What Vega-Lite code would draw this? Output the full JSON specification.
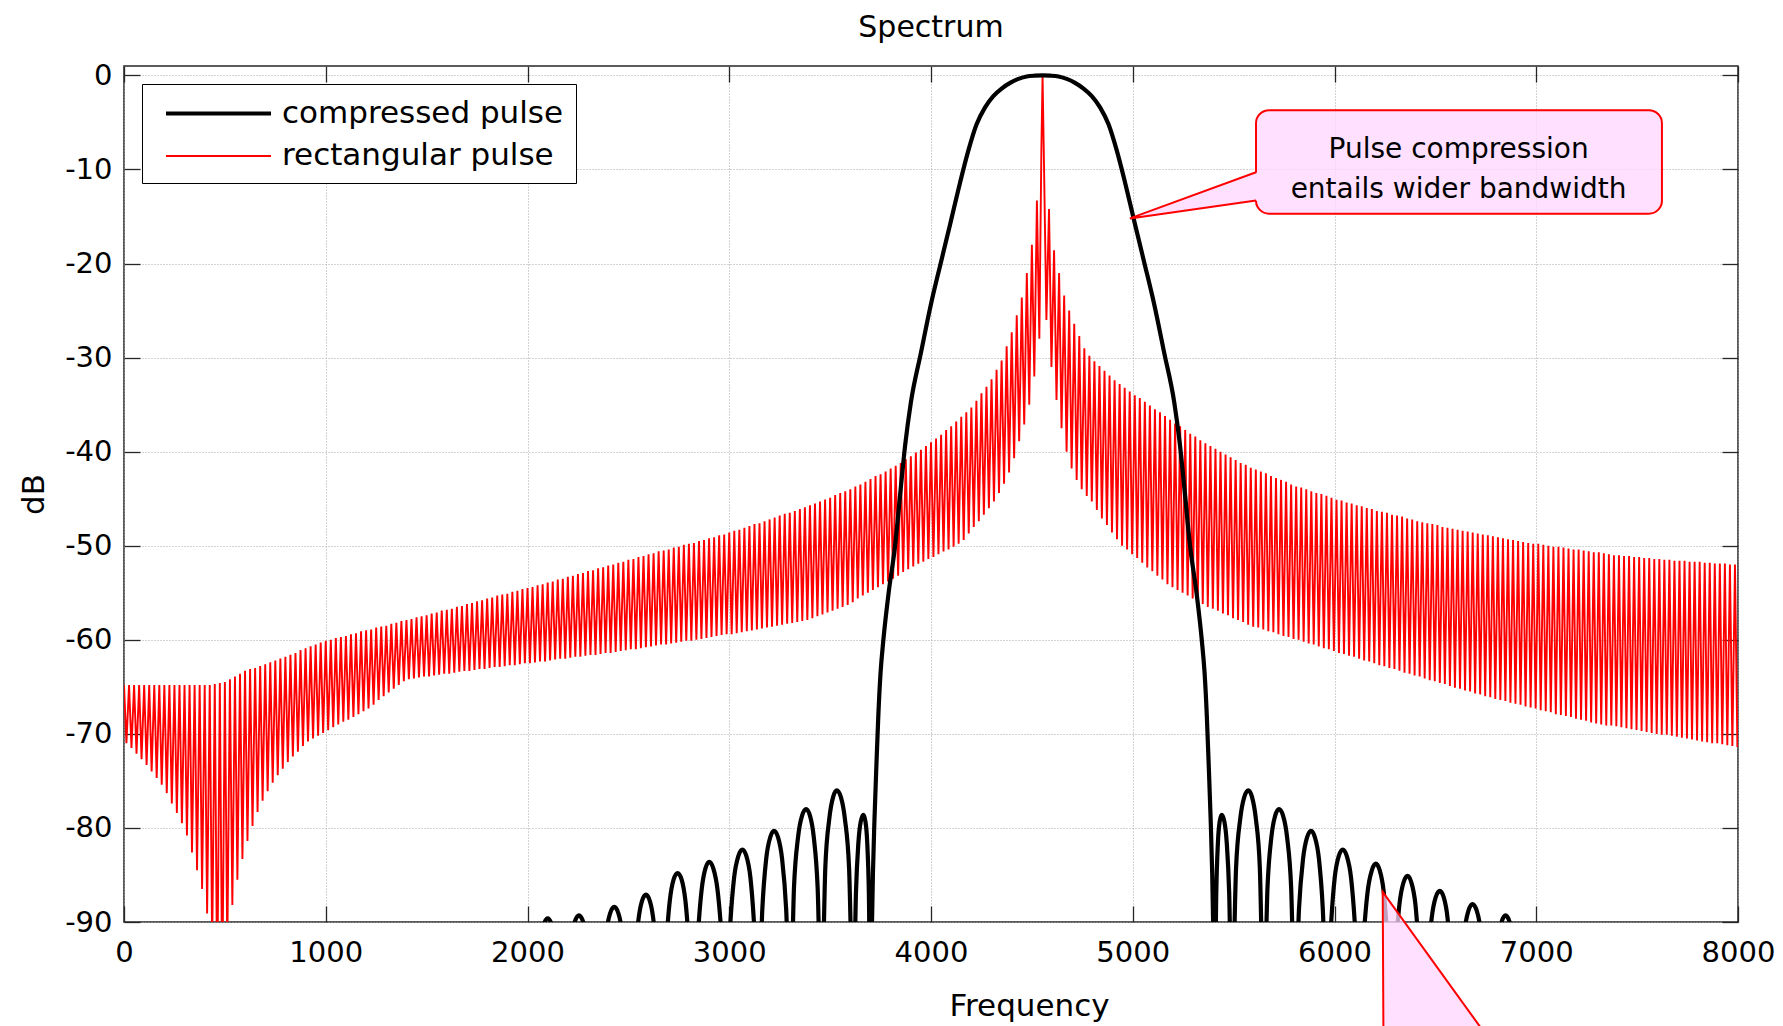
{
  "$schema": "https://vega.github.io/schema/vega-lite/v6.json",
  "autosize": {"type": "none"},
  "width": 1614,
  "height": 856,
  "padding": {"left": 124, "top": 66, "right": 45, "bottom": 104},
  "background": "white",
  "title": {"text": "Spectrum", "anchor": "middle", "frame": "group", "font": "DejaVu Sans", "fontSize": 30, "fontWeight": "normal", "color": "#000000", "baseline": "alphabetic", "offset": -6},
  "config": {
    "locale": {"number": {"decimal": ".", "thousands": ",", "grouping": [3], "currency": ["$", ""], "minus": "-"}},
    "view": {"stroke": "#262626", "strokeWidth": 1.5},
    "axis": {
      "labelFont": "DejaVu Sans", "labelFontSize": 29, "labelColor": "#000000", "format": "d",
      "titleFont": "DejaVu Sans", "titleFontSize": 31, "titleFontWeight": "normal", "titleColor": "#000000",
      "tickColor": "#262626", "tickWidth": 1.3, "tickSize": -16,
      "domain": false, "labelFlush": false, "labelOverlap": false, "labelBound": false,
      "gridColor": "#a6a6a6", "gridDash": [1, 2], "gridWidth": 1, "gridOpacity": 1
    },
    "legend": {
      "padding": 12, "strokeColor": "#000000", "fillColor": "#ffffff",
      "labelFont": "DejaVu Sans", "labelFontSize": 31, "labelColor": "#000000", "labelOffset": 46, "labelLimit": 0,
      "symbolType": "M-3.5,0H3.5", "symbolSize": 900, "symbolOffset": 47, "rowPadding": 11
    }
  },
  "resolve": {"axis": {"x": "independent", "y": "independent"}},
  "datasets": {
    "compressed": [
      {"f":2020,"v":-100},{"f":2061,"v":-92.6},{"f":2080,"v":-90.3},{"f":2100,"v":-89.6},{"f":2120,"v":-90.3},{"f":2139,"v":-92.6},{"f":2178,"v":-100},
      {"f":2214,"v":-92.3},{"f":2234,"v":-90.0},{"f":2255,"v":-89.3},{"f":2276,"v":-90.0},{"f":2296,"v":-92.3},{"f":2343,"v":-100},
      {"f":2368,"v":-96.7},{"f":2389,"v":-91.4},{"f":2409,"v":-89.1},{"f":2430,"v":-88.4},{"f":2451,"v":-89.1},{"f":2471,"v":-91.4},{"f":2492,"v":-96.7},{"f":2509,"v":-100},
      {"f":2528,"v":-95.4},{"f":2548,"v":-90.1},{"f":2567,"v":-87.8},{"f":2587,"v":-87.1},{"f":2607,"v":-87.8},{"f":2626,"v":-90.1},{"f":2646,"v":-95.4},{"f":2666,"v":-100},
      {"f":2685,"v":-93.1},{"f":2705,"v":-87.8},{"f":2724,"v":-85.5},{"f":2744,"v":-84.8},{"f":2764,"v":-85.5},{"f":2783,"v":-87.8},{"f":2803,"v":-93.1},{"f":2823,"v":-100},
      {"f":2843,"v":-91.9},{"f":2863,"v":-86.6},{"f":2882,"v":-84.3},{"f":2901,"v":-83.6},{"f":2921,"v":-84.3},{"f":2942,"v":-86.6},{"f":2963,"v":-91.9},{"f":2983,"v":-100},
      {"f":3004,"v":-90.6},{"f":3024,"v":-85.3},{"f":3045,"v":-83.0},{"f":3065,"v":-82.3},{"f":3085,"v":-83.0},{"f":3105,"v":-85.3},{"f":3124,"v":-90.6},{"f":3144,"v":-100},
      {"f":3164,"v":-88.6},{"f":3183,"v":-83.3},{"f":3203,"v":-81.0},{"f":3222,"v":-80.3},{"f":3242,"v":-81.0},{"f":3262,"v":-83.3},{"f":3282,"v":-88.6},{"f":3302,"v":-100},
      {"f":3321,"v":-86.3},{"f":3341,"v":-81.0},{"f":3361,"v":-78.7},{"f":3381,"v":-78.0},{"f":3400,"v":-78.7},{"f":3419,"v":-81.0},{"f":3438,"v":-86.3},{"f":3457,"v":-100},
      {"f":3476,"v":-84.3},{"f":3496,"v":-79.0},{"f":3515,"v":-76.7},{"f":3533,"v":-76.0},{"f":3553,"v":-76.7},{"f":3573,"v":-79.0},{"f":3594,"v":-84.3},{"f":3615,"v":-100},
      {"f":3628,"v":-86.9},{"f":3640,"v":-81.6},{"f":3652,"v":-79.3},{"f":3665,"v":-78.6},{"f":3675,"v":-79.3},{"f":3684,"v":-81.6},{"f":3692,"v":-86.9},{"f":3700,"v":-100},
      {"f":3706,"v":-92},{"f":3712,"v":-85},{"f":3720,"v":-79},{"f":3730,"v":-73},{"f":3739,"v":-68},{"f":3750,"v":-63.5},{"f":3764,"v":-60},{"f":3790,"v":-55},
      {"f":3822,"v":-50},{"f":3846,"v":-44.8},{"f":3872,"v":-39.3},{"f":3900,"v":-34.8},{"f":3950,"v":-29.5},{"f":4000,"v":-24.3},{"f":4050,"v":-19.8},{"f":4094,"v":-15.9},
      {"f":4144,"v":-11.4},{"f":4185,"v":-8.0},{"f":4226,"v":-5.2},{"f":4268,"v":-3.4},{"f":4309,"v":-2.2},{"f":4350,"v":-1.4},{"f":4392,"v":-0.8},{"f":4430,"v":-0.4},
      {"f":4474,"v":-0.12},{"f":4515,"v":-0.03},{"f":4553,"v":0},{"f":4591,"v":-0.03},{"f":4632,"v":-0.12},{"f":4676,"v":-0.4},{"f":4714,"v":-0.8},{"f":4756,"v":-1.4},
      {"f":4797,"v":-2.2},{"f":4838,"v":-3.4},{"f":4880,"v":-5.2},{"f":4921,"v":-8.0},{"f":4962,"v":-11.4},{"f":5012,"v":-15.9},{"f":5056,"v":-19.8},{"f":5106,"v":-24.3},
      {"f":5156,"v":-29.5},{"f":5206,"v":-34.8},{"f":5234,"v":-39.3},{"f":5260,"v":-44.8},{"f":5284,"v":-50},{"f":5316,"v":-55},{"f":5342,"v":-60},{"f":5356,"v":-63.5},
      {"f":5367,"v":-68},{"f":5376,"v":-73},{"f":5386,"v":-79},{"f":5394,"v":-85},{"f":5400,"v":-92},{"f":5406,"v":-100},
      {"f":5414,"v":-86.9},{"f":5422,"v":-81.6},{"f":5431,"v":-79.3},{"f":5441,"v":-78.6},{"f":5454,"v":-79.3},{"f":5466,"v":-81.6},{"f":5478,"v":-86.9},{"f":5491,"v":-100},
      {"f":5512,"v":-84.3},{"f":5533,"v":-79.0},{"f":5553,"v":-76.7},{"f":5573,"v":-76.0},{"f":5591,"v":-76.7},{"f":5610,"v":-79.0},{"f":5630,"v":-84.3},{"f":5649,"v":-100},
      {"f":5668,"v":-86.3},{"f":5687,"v":-81.0},{"f":5706,"v":-78.7},{"f":5725,"v":-78.0},{"f":5745,"v":-78.7},{"f":5765,"v":-81.0},{"f":5785,"v":-86.3},{"f":5804,"v":-100},
      {"f":5824,"v":-88.6},{"f":5844,"v":-83.3},{"f":5864,"v":-81.0},{"f":5884,"v":-80.3},{"f":5903,"v":-81.0},{"f":5923,"v":-83.3},{"f":5942,"v":-88.6},{"f":5962,"v":-100},
      {"f":5982,"v":-90.6},{"f":6001,"v":-85.3},{"f":6021,"v":-83.0},{"f":6041,"v":-82.3},{"f":6061,"v":-83.0},{"f":6082,"v":-85.3},{"f":6102,"v":-90.6},{"f":6123,"v":-100},
      {"f":6143,"v":-92.1},{"f":6164,"v":-86.8},{"f":6185,"v":-84.5},{"f":6205,"v":-83.8},{"f":6224,"v":-84.5},{"f":6244,"v":-86.8},{"f":6263,"v":-92.1},{"f":6283,"v":-100},
      {"f":6302,"v":-93.4},{"f":6322,"v":-88.1},{"f":6342,"v":-85.8},{"f":6362,"v":-85.1},{"f":6381,"v":-85.8},{"f":6401,"v":-88.1},{"f":6420,"v":-93.4},{"f":6440,"v":-100},
      {"f":6460,"v":-95.0},{"f":6481,"v":-89.7},{"f":6501,"v":-87.4},{"f":6522,"v":-86.7},{"f":6542,"v":-87.4},{"f":6561,"v":-89.7},{"f":6579,"v":-95.0},{"f":6597,"v":-100},
      {"f":6621,"v":-96.4},{"f":6643,"v":-91.1},{"f":6664,"v":-88.8},{"f":6684,"v":-88.1},{"f":6705,"v":-88.8},{"f":6726,"v":-91.1},{"f":6747,"v":-96.4},{"f":6763,"v":-100},
      {"f":6807,"v":-92.3},{"f":6828,"v":-90.0},{"f":6848,"v":-89.3},{"f":6868,"v":-90.0},{"f":6888,"v":-92.3},{"f":6928,"v":-100}
    ],
    "rectangular": [
      {"f":0,"v":-64.8},{"f":12,"v":-71.0},{"f":25,"v":-64.8},{"f":37,"v":-71.5},{"f":50,"v":-64.8},{"f":62,"v":-72.1},{"f":75,"v":-64.8},{"f":87,"v":-72.7},
      {"f":100,"v":-64.8},{"f":112,"v":-73.3},{"f":125,"v":-64.8},{"f":137,"v":-74.0},{"f":150,"v":-64.8},{"f":162,"v":-74.7},{"f":175,"v":-64.8},{"f":187,"v":-75.4},
      {"f":200,"v":-64.8},{"f":212,"v":-76.3},{"f":225,"v":-64.8},{"f":237,"v":-77.4},{"f":250,"v":-64.8},{"f":262,"v":-78.4},{"f":275,"v":-64.8},{"f":287,"v":-79.5},
      {"f":300,"v":-64.8},{"f":312,"v":-80.8},{"f":325,"v":-64.8},{"f":337,"v":-82.6},{"f":350,"v":-64.8},{"f":362,"v":-84.5},{"f":375,"v":-64.8},{"f":387,"v":-86.5},
      {"f":400,"v":-64.8},{"f":412,"v":-89.1},{"f":425,"v":-64.8},{"f":437,"v":-92.7},{"f":450,"v":-64.7},{"f":462,"v":-97.5},{"f":475,"v":-64.6},{"f":487,"v":-98},
      {"f":500,"v":-64.5},{"f":512,"v":-93},{"f":525,"v":-64.2},{"f":537,"v":-88.2},{"f":550,"v":-63.9},{"f":562,"v":-85.5},{"f":575,"v":-63.6},{"f":587,"v":-83.3},
      {"f":600,"v":-63.3},{"f":612,"v":-81.4},{"f":625,"v":-63.1},{"f":637,"v":-79.8},{"f":650,"v":-63.0},{"f":662,"v":-78.3},{"f":675,"v":-62.8},{"f":687,"v":-77.1},
      {"f":700,"v":-62.6},{"f":712,"v":-76.1},{"f":725,"v":-62.4},{"f":737,"v":-75.2},{"f":750,"v":-62.2},{"f":762,"v":-74.4},{"f":775,"v":-62.0},{"f":787,"v":-73.7},
      {"f":800,"v":-61.8},{"f":812,"v":-73.0},{"f":825,"v":-61.6},{"f":837,"v":-72.4},{"f":850,"v":-61.4},{"f":862,"v":-71.9},{"f":875,"v":-61.1},{"f":887,"v":-71.3},
      {"f":900,"v":-60.9},{"f":912,"v":-70.8},{"f":925,"v":-60.7},{"f":937,"v":-70.5},{"f":950,"v":-60.5},{"f":962,"v":-70.2},{"f":975,"v":-60.3},{"f":987,"v":-69.9},
      {"f":1000,"v":-60.1},{"f":1012,"v":-69.6},{"f":1025,"v":-60.0},{"f":1037,"v":-69.3},{"f":1050,"v":-59.8},{"f":1062,"v":-69.0},{"f":1075,"v":-59.7},{"f":1087,"v":-68.7},
      {"f":1100,"v":-59.6},{"f":1112,"v":-68.5},{"f":1125,"v":-59.4},{"f":1137,"v":-68.2},{"f":1150,"v":-59.3},{"f":1162,"v":-67.9},{"f":1175,"v":-59.1},{"f":1187,"v":-67.6},
      {"f":1200,"v":-59.0},{"f":1212,"v":-67.3},{"f":1225,"v":-58.9},{"f":1237,"v":-66.9},{"f":1250,"v":-58.7},{"f":1262,"v":-66.4},{"f":1275,"v":-58.6},{"f":1287,"v":-66.0},
      {"f":1300,"v":-58.5},{"f":1312,"v":-65.6},{"f":1325,"v":-58.3},{"f":1337,"v":-65.2},{"f":1350,"v":-58.2},{"f":1362,"v":-64.8},{"f":1375,"v":-58.0},{"f":1387,"v":-64.4},
      {"f":1400,"v":-57.9},{"f":1412,"v":-64.2},{"f":1425,"v":-57.8},{"f":1437,"v":-64.1},{"f":1450,"v":-57.6},{"f":1462,"v":-64.0},{"f":1475,"v":-57.5},{"f":1487,"v":-63.9},
      {"f":1500,"v":-57.4},{"f":1512,"v":-63.9},{"f":1525,"v":-57.2},{"f":1537,"v":-63.8},{"f":1550,"v":-57.1},{"f":1562,"v":-63.7},{"f":1575,"v":-56.9},{"f":1587,"v":-63.6},
      {"f":1600,"v":-56.8},{"f":1612,"v":-63.6},{"f":1625,"v":-56.7},{"f":1637,"v":-63.5},{"f":1650,"v":-56.5},{"f":1662,"v":-63.4},{"f":1675,"v":-56.4},{"f":1687,"v":-63.3},
      {"f":1700,"v":-56.2},{"f":1712,"v":-63.3},{"f":1725,"v":-56.1},{"f":1737,"v":-63.2},{"f":1750,"v":-55.9},{"f":1762,"v":-63.1},{"f":1775,"v":-55.8},{"f":1787,"v":-63.1},
      {"f":1800,"v":-55.6},{"f":1812,"v":-63.0},{"f":1825,"v":-55.5},{"f":1837,"v":-62.9},{"f":1850,"v":-55.3},{"f":1862,"v":-62.9},{"f":1875,"v":-55.2},{"f":1887,"v":-62.8},
      {"f":1900,"v":-55.1},{"f":1912,"v":-62.7},{"f":1925,"v":-54.9},{"f":1937,"v":-62.7},{"f":1950,"v":-54.8},{"f":1962,"v":-62.6},{"f":1975,"v":-54.6},{"f":1987,"v":-62.5},
      {"f":2000,"v":-54.5},{"f":2012,"v":-62.5},{"f":2025,"v":-54.4},{"f":2037,"v":-62.4},{"f":2050,"v":-54.2},{"f":2062,"v":-62.3},{"f":2075,"v":-54.1},{"f":2087,"v":-62.3},
      {"f":2100,"v":-53.9},{"f":2112,"v":-62.2},{"f":2125,"v":-53.8},{"f":2137,"v":-62.1},{"f":2150,"v":-53.6},{"f":2162,"v":-62.0},{"f":2175,"v":-53.5},{"f":2187,"v":-62.0},
      {"f":2200,"v":-53.3},{"f":2212,"v":-61.9},{"f":2225,"v":-53.2},{"f":2237,"v":-61.8},{"f":2250,"v":-53.0},{"f":2262,"v":-61.8},{"f":2275,"v":-52.9},{"f":2287,"v":-61.7},
      {"f":2300,"v":-52.7},{"f":2312,"v":-61.6},{"f":2325,"v":-52.6},{"f":2337,"v":-61.6},{"f":2350,"v":-52.4},{"f":2362,"v":-61.5},{"f":2375,"v":-52.3},{"f":2387,"v":-61.4},
      {"f":2400,"v":-52.1},{"f":2412,"v":-61.4},{"f":2425,"v":-52.0},{"f":2437,"v":-61.3},{"f":2450,"v":-51.8},{"f":2462,"v":-61.2},{"f":2475,"v":-51.7},{"f":2487,"v":-61.1},
      {"f":2500,"v":-51.5},{"f":2512,"v":-61.0},{"f":2525,"v":-51.4},{"f":2537,"v":-61.0},{"f":2550,"v":-51.2},{"f":2562,"v":-60.9},{"f":2575,"v":-51.1},{"f":2587,"v":-60.8},
      {"f":2600,"v":-50.9},{"f":2612,"v":-60.7},{"f":2625,"v":-50.8},{"f":2637,"v":-60.6},{"f":2650,"v":-50.6},{"f":2662,"v":-60.5},{"f":2675,"v":-50.5},{"f":2687,"v":-60.5},
      {"f":2700,"v":-50.4},{"f":2712,"v":-60.4},{"f":2725,"v":-50.2},{"f":2737,"v":-60.3},{"f":2750,"v":-50.1},{"f":2762,"v":-60.2},{"f":2775,"v":-49.9},{"f":2787,"v":-60.1},
      {"f":2800,"v":-49.8},{"f":2812,"v":-60.1},{"f":2825,"v":-49.7},{"f":2837,"v":-60.0},{"f":2850,"v":-49.5},{"f":2862,"v":-59.9},{"f":2875,"v":-49.4},{"f":2887,"v":-59.8},
      {"f":2900,"v":-49.2},{"f":2912,"v":-59.7},{"f":2925,"v":-49.1},{"f":2937,"v":-59.6},{"f":2950,"v":-48.9},{"f":2962,"v":-59.5},{"f":2975,"v":-48.8},{"f":2987,"v":-59.4},
      {"f":3000,"v":-48.6},{"f":3012,"v":-59.4},{"f":3025,"v":-48.4},{"f":3037,"v":-59.3},{"f":3050,"v":-48.3},{"f":3062,"v":-59.2},{"f":3075,"v":-48.1},{"f":3087,"v":-59.1},
      {"f":3100,"v":-47.9},{"f":3112,"v":-59.0},{"f":3125,"v":-47.7},{"f":3137,"v":-58.9},{"f":3150,"v":-47.6},{"f":3162,"v":-58.8},{"f":3175,"v":-47.4},{"f":3187,"v":-58.7},
      {"f":3200,"v":-47.2},{"f":3212,"v":-58.6},{"f":3225,"v":-47.0},{"f":3237,"v":-58.5},{"f":3250,"v":-46.8},{"f":3262,"v":-58.4},{"f":3275,"v":-46.6},{"f":3287,"v":-58.3},
      {"f":3300,"v":-46.5},{"f":3312,"v":-58.2},{"f":3325,"v":-46.3},{"f":3337,"v":-58.1},{"f":3350,"v":-46.1},{"f":3362,"v":-58.0},{"f":3375,"v":-45.9},{"f":3387,"v":-57.9},
      {"f":3400,"v":-45.7},{"f":3412,"v":-57.7},{"f":3425,"v":-45.5},{"f":3437,"v":-57.5},{"f":3450,"v":-45.3},{"f":3462,"v":-57.3},{"f":3475,"v":-45.1},{"f":3487,"v":-57.1},
      {"f":3500,"v":-44.9},{"f":3512,"v":-56.9},{"f":3525,"v":-44.6},{"f":3537,"v":-56.7},{"f":3550,"v":-44.4},{"f":3562,"v":-56.5},{"f":3575,"v":-44.2},{"f":3587,"v":-56.3},
      {"f":3600,"v":-44.0},{"f":3612,"v":-56.0},{"f":3625,"v":-43.7},{"f":3637,"v":-55.6},{"f":3650,"v":-43.5},{"f":3662,"v":-55.3},{"f":3675,"v":-43.2},{"f":3687,"v":-55.0},
      {"f":3700,"v":-42.9},{"f":3712,"v":-54.7},{"f":3725,"v":-42.6},{"f":3737,"v":-54.4},{"f":3750,"v":-42.4},{"f":3762,"v":-54.1},{"f":3775,"v":-42.1},{"f":3787,"v":-53.8},
      {"f":3800,"v":-41.8},{"f":3812,"v":-53.5},{"f":3825,"v":-41.5},{"f":3837,"v":-53.2},{"f":3850,"v":-41.2},{"f":3862,"v":-52.8},{"f":3875,"v":-40.8},{"f":3887,"v":-52.5},
      {"f":3900,"v":-40.5},{"f":3912,"v":-52.2},{"f":3925,"v":-40.1},{"f":3937,"v":-51.9},{"f":3950,"v":-39.8},{"f":3962,"v":-51.7},{"f":3975,"v":-39.4},{"f":3987,"v":-51.4},
      {"f":4000,"v":-39.0},{"f":4012,"v":-51.2},{"f":4025,"v":-38.6},{"f":4037,"v":-50.9},{"f":4050,"v":-38.2},{"f":4062,"v":-50.6},{"f":4075,"v":-37.7},{"f":4087,"v":-50.4},
      {"f":4100,"v":-37.3},{"f":4112,"v":-50.1},{"f":4125,"v":-36.8},{"f":4137,"v":-49.8},{"f":4150,"v":-36.3},{"f":4162,"v":-49.4},{"f":4175,"v":-35.8},{"f":4187,"v":-48.7},
      {"f":4200,"v":-35.3},{"f":4212,"v":-48.0},{"f":4225,"v":-34.6},{"f":4237,"v":-47.4},{"f":4250,"v":-33.8},{"f":4262,"v":-46.7},{"f":4275,"v":-33.1},{"f":4287,"v":-46.0},
      {"f":4300,"v":-32.3},{"f":4312,"v":-45.3},{"f":4325,"v":-31.3},{"f":4337,"v":-44.4},{"f":4350,"v":-30.3},{"f":4362,"v":-43.4},{"f":4375,"v":-28.8},{"f":4387,"v":-42.2},
      {"f":4400,"v":-27.3},{"f":4412,"v":-40.7},{"f":4425,"v":-25.5},{"f":4437,"v":-38.9},{"f":4450,"v":-23.6},{"f":4462,"v":-37.1},{"f":4475,"v":-21.0},{"f":4487,"v":-35.0},
      {"f":4500,"v":-18.0},{"f":4512,"v":-32.0},{"f":4525,"v":-13.3},{"f":4537,"v":-28.0},{"f":4547,"v":-8},{"f":4553,"v":0},{"f":4559,"v":-8},{"f":4572,"v":-26},
      {"f":4585,"v":-14.2},{"f":4597,"v":-31.0},{"f":4610,"v":-18.6},{"f":4622,"v":-34.5},{"f":4635,"v":-21.0},{"f":4647,"v":-37.5},{"f":4660,"v":-23.4},{"f":4672,"v":-40.0},
      {"f":4685,"v":-25.0},{"f":4697,"v":-41.8},{"f":4710,"v":-26.4},{"f":4722,"v":-43.0},{"f":4735,"v":-27.7},{"f":4747,"v":-44.0},{"f":4760,"v":-29.0},{"f":4772,"v":-44.7},
      {"f":4785,"v":-29.8},{"f":4797,"v":-45.3},{"f":4810,"v":-30.4},{"f":4822,"v":-46.2},{"f":4835,"v":-30.9},{"f":4847,"v":-47.1},{"f":4860,"v":-31.4},{"f":4872,"v":-47.8},
      {"f":4885,"v":-31.9},{"f":4897,"v":-48.6},{"f":4910,"v":-32.4},{"f":4922,"v":-49.3},{"f":4935,"v":-32.8},{"f":4947,"v":-50.0},{"f":4960,"v":-33.2},{"f":4972,"v":-50.4},
      {"f":4985,"v":-33.6},{"f":4997,"v":-50.9},{"f":5010,"v":-34.0},{"f":5022,"v":-51.3},{"f":5035,"v":-34.3},{"f":5047,"v":-51.8},{"f":5060,"v":-34.7},{"f":5072,"v":-52.3},
      {"f":5085,"v":-35.1},{"f":5097,"v":-52.7},{"f":5110,"v":-35.5},{"f":5122,"v":-53.2},{"f":5135,"v":-35.8},{"f":5147,"v":-53.6},{"f":5160,"v":-36.2},{"f":5172,"v":-54.1},
      {"f":5185,"v":-36.6},{"f":5197,"v":-54.4},{"f":5210,"v":-37.0},{"f":5222,"v":-54.7},{"f":5235,"v":-37.3},{"f":5247,"v":-55.0},{"f":5260,"v":-37.7},{"f":5272,"v":-55.3},
      {"f":5285,"v":-38.1},{"f":5297,"v":-55.6},{"f":5310,"v":-38.4},{"f":5322,"v":-56.0},{"f":5335,"v":-38.8},{"f":5347,"v":-56.2},{"f":5360,"v":-39.1},{"f":5372,"v":-56.5},
      {"f":5385,"v":-39.4},{"f":5397,"v":-56.7},{"f":5410,"v":-39.7},{"f":5422,"v":-56.9},{"f":5435,"v":-40.0},{"f":5447,"v":-57.2},{"f":5460,"v":-40.3},{"f":5472,"v":-57.4},
      {"f":5485,"v":-40.6},{"f":5497,"v":-57.7},{"f":5510,"v":-40.9},{"f":5522,"v":-57.9},{"f":5535,"v":-41.2},{"f":5547,"v":-58.1},{"f":5560,"v":-41.4},{"f":5572,"v":-58.4},
      {"f":5585,"v":-41.7},{"f":5597,"v":-58.6},{"f":5610,"v":-41.9},{"f":5622,"v":-58.7},{"f":5635,"v":-42.1},{"f":5647,"v":-58.9},{"f":5660,"v":-42.3},{"f":5672,"v":-59.1},
      {"f":5685,"v":-42.6},{"f":5697,"v":-59.2},{"f":5710,"v":-42.8},{"f":5722,"v":-59.4},{"f":5735,"v":-43.0},{"f":5747,"v":-59.6},{"f":5760,"v":-43.2},{"f":5772,"v":-59.7},
      {"f":5785,"v":-43.5},{"f":5797,"v":-59.9},{"f":5810,"v":-43.7},{"f":5822,"v":-60.0},{"f":5835,"v":-43.8},{"f":5847,"v":-60.2},{"f":5860,"v":-44.0},{"f":5872,"v":-60.4},
      {"f":5885,"v":-44.2},{"f":5897,"v":-60.5},{"f":5910,"v":-44.4},{"f":5922,"v":-60.7},{"f":5935,"v":-44.5},{"f":5947,"v":-60.9},{"f":5960,"v":-44.7},{"f":5972,"v":-61.0},
      {"f":5985,"v":-44.9},{"f":5997,"v":-61.2},{"f":6010,"v":-45.1},{"f":6022,"v":-61.4},{"f":6035,"v":-45.2},{"f":6047,"v":-61.5},{"f":6060,"v":-45.4},{"f":6072,"v":-61.7},
      {"f":6085,"v":-45.5},{"f":6097,"v":-61.8},{"f":6110,"v":-45.7},{"f":6122,"v":-62.0},{"f":6135,"v":-45.8},{"f":6147,"v":-62.2},{"f":6160,"v":-46.0},{"f":6172,"v":-62.3},
      {"f":6185,"v":-46.1},{"f":6197,"v":-62.5},{"f":6210,"v":-46.3},{"f":6222,"v":-62.7},{"f":6235,"v":-46.4},{"f":6247,"v":-62.8},{"f":6260,"v":-46.5},{"f":6272,"v":-63.0},
      {"f":6285,"v":-46.7},{"f":6297,"v":-63.1},{"f":6310,"v":-46.8},{"f":6322,"v":-63.3},{"f":6335,"v":-46.9},{"f":6347,"v":-63.5},{"f":6360,"v":-47.1},{"f":6372,"v":-63.6},
      {"f":6385,"v":-47.2},{"f":6397,"v":-63.8},{"f":6410,"v":-47.4},{"f":6422,"v":-63.9},{"f":6435,"v":-47.5},{"f":6447,"v":-64.1},{"f":6460,"v":-47.6},{"f":6472,"v":-64.3},
      {"f":6485,"v":-47.7},{"f":6497,"v":-64.4},{"f":6510,"v":-47.8},{"f":6522,"v":-64.6},{"f":6535,"v":-48.0},{"f":6547,"v":-64.7},{"f":6560,"v":-48.1},{"f":6572,"v":-64.9},
      {"f":6585,"v":-48.2},{"f":6597,"v":-65.1},{"f":6610,"v":-48.3},{"f":6622,"v":-65.2},{"f":6635,"v":-48.4},{"f":6647,"v":-65.4},{"f":6660,"v":-48.5},{"f":6672,"v":-65.5},
      {"f":6685,"v":-48.6},{"f":6697,"v":-65.7},{"f":6710,"v":-48.7},{"f":6722,"v":-65.8},{"f":6735,"v":-48.8},{"f":6747,"v":-66.0},{"f":6760,"v":-48.9},{"f":6772,"v":-66.1},
      {"f":6785,"v":-49.0},{"f":6797,"v":-66.3},{"f":6810,"v":-49.1},{"f":6822,"v":-66.4},{"f":6835,"v":-49.2},{"f":6847,"v":-66.5},{"f":6860,"v":-49.3},{"f":6872,"v":-66.7},
      {"f":6885,"v":-49.4},{"f":6897,"v":-66.8},{"f":6910,"v":-49.5},{"f":6922,"v":-66.9},{"f":6935,"v":-49.6},{"f":6947,"v":-67.1},{"f":6960,"v":-49.7},{"f":6972,"v":-67.2},
      {"f":6985,"v":-49.8},{"f":6997,"v":-67.3},{"f":7010,"v":-49.8},{"f":7022,"v":-67.5},{"f":7035,"v":-49.9},{"f":7047,"v":-67.6},{"f":7060,"v":-50.0},{"f":7072,"v":-67.7},
      {"f":7085,"v":-50.1},{"f":7097,"v":-67.9},{"f":7110,"v":-50.1},{"f":7122,"v":-68.0},{"f":7135,"v":-50.2},{"f":7147,"v":-68.1},{"f":7160,"v":-50.3},{"f":7172,"v":-68.2},
      {"f":7185,"v":-50.4},{"f":7197,"v":-68.4},{"f":7210,"v":-50.4},{"f":7222,"v":-68.5},{"f":7235,"v":-50.5},{"f":7247,"v":-68.6},{"f":7260,"v":-50.6},{"f":7272,"v":-68.8},
      {"f":7285,"v":-50.7},{"f":7297,"v":-68.9},{"f":7310,"v":-50.7},{"f":7322,"v":-69.0},{"f":7335,"v":-50.8},{"f":7347,"v":-69.1},{"f":7360,"v":-50.9},{"f":7372,"v":-69.1},
      {"f":7385,"v":-51.0},{"f":7397,"v":-69.2},{"f":7410,"v":-51.0},{"f":7422,"v":-69.3},{"f":7435,"v":-51.1},{"f":7447,"v":-69.4},{"f":7460,"v":-51.1},{"f":7472,"v":-69.5},
      {"f":7485,"v":-51.2},{"f":7497,"v":-69.6},{"f":7510,"v":-51.2},{"f":7522,"v":-69.7},{"f":7535,"v":-51.3},{"f":7547,"v":-69.8},{"f":7560,"v":-51.3},{"f":7572,"v":-69.9},
      {"f":7585,"v":-51.4},{"f":7597,"v":-70.0},{"f":7610,"v":-51.4},{"f":7622,"v":-70.1},{"f":7635,"v":-51.5},{"f":7647,"v":-70.1},{"f":7660,"v":-51.5},{"f":7672,"v":-70.2},
      {"f":7685,"v":-51.6},{"f":7697,"v":-70.3},{"f":7710,"v":-51.6},{"f":7722,"v":-70.4},{"f":7735,"v":-51.6},{"f":7747,"v":-70.5},{"f":7760,"v":-51.7},{"f":7772,"v":-70.6},
      {"f":7785,"v":-51.7},{"f":7797,"v":-70.7},{"f":7810,"v":-51.7},{"f":7822,"v":-70.8},{"f":7835,"v":-51.8},{"f":7847,"v":-70.9},{"f":7860,"v":-51.8},{"f":7872,"v":-71.0},
      {"f":7885,"v":-51.9},{"f":7897,"v":-71.0},{"f":7910,"v":-51.9},{"f":7922,"v":-71.1},{"f":7935,"v":-51.9},{"f":7947,"v":-71.2},{"f":7960,"v":-52.0},{"f":7972,"v":-71.3},
      {"f":7985,"v":-52.0},{"f":7997,"v":-71.4}
    ]
  },
  "layer": [
    {
      "data": {"name": "rectangular"},
      "mark": {"type": "line", "clip": true},
      "encoding": {
        "x": {"field": "f", "type": "quantitative", "scale": {"domain": [0, 8000], "nice": false, "zero": false},
              "axis": {"orient": "top", "values": [0, 1000, 2000, 3000, 4000, 5000, 6000, 7000, 8000], "labels": false, "grid": false, "title": null}},
        "y": {"field": "v", "type": "quantitative", "scale": {"domain": [-90, 1], "nice": false, "zero": false},
              "axis": {"orient": "right", "values": [-90, -80, -70, -60, -50, -40, -30, -20, -10, 0], "labels": false, "grid": false, "title": null}},
        "color": {"datum": "rectangular pulse", "type": "nominal",
                  "scale": {"domain": ["compressed pulse", "rectangular pulse"], "range": ["#000000", "#ff0000"]},
                  "legend": {"title": null, "orient": "none", "legendX": 18, "legendY": 18}},
        "strokeWidth": {"datum": "rectangular pulse", "type": "nominal",
                        "scale": {"type": "ordinal", "domain": ["compressed pulse", "rectangular pulse"], "range": [4.2, 1.9]},
                        "legend": {"title": null, "orient": "none", "legendX": 18, "legendY": 18}}
      }
    },
    {
      "data": {"name": "compressed"},
      "mark": {"type": "line", "clip": true, "interpolate": "monotone"},
      "encoding": {
        "x": {"field": "f", "type": "quantitative", "scale": {"domain": [0, 8000], "nice": false, "zero": false},
              "axis": {"orient": "bottom", "values": [0, 1000, 2000, 3000, 4000, 5000, 6000, 7000, 8000], "grid": true, "labelPadding": 32,
                       "title": "Frequency", "titleX": 905, "titleY": 93, "titleBaseline": "alphabetic", "titleAlign": "center"}},
        "y": {"field": "v", "type": "quantitative", "scale": {"domain": [-90, 1], "nice": false, "zero": false},
              "axis": {"orient": "left", "values": [-90, -80, -70, -60, -50, -40, -30, -20, -10, 0], "grid": true, "labelPadding": 28,
                       "title": "dB", "titleX": -81, "titleY": 428, "titleAngle": 270, "titleBaseline": "alphabetic", "titleAlign": "center"}},
        "color": {"datum": "compressed pulse", "type": "nominal",
                  "scale": {"domain": ["compressed pulse", "rectangular pulse"], "range": ["#000000", "#ff0000"]},
                  "legend": {"title": null, "orient": "none", "legendX": 18, "legendY": 18}},
        "strokeWidth": {"datum": "compressed pulse", "type": "nominal",
                        "scale": {"type": "ordinal", "domain": ["compressed pulse", "rectangular pulse"], "range": [4.2, 1.9]},
                        "legend": {"title": null, "orient": "none", "legendX": 18, "legendY": 18}}
      }
    },
    {
      "data": {"values": [{"f": 6239, "top": -86.8, "bottom": -86.8}, {"f": 6243, "top": -86.9, "bottom": -104}, {"f": 6818, "top": -104, "bottom": -104}]},
      "mark": {"type": "area", "color": "#ffd6ff", "opacity": 0.75, "clip": false},
      "encoding": {
        "x": {"field": "f", "type": "quantitative", "scale": {"domain": [0, 8000], "nice": false, "zero": false}, "axis": null},
        "y": {"field": "top", "type": "quantitative", "scale": {"domain": [-90, 1], "nice": false, "zero": false}, "axis": null},
        "y2": {"field": "bottom"}
      }
    },
    {
      "data": {"values": [{"i": 0, "f": 6243, "v": -104}, {"i": 1, "f": 6239, "v": -86.8}, {"i": 2, "f": 6818, "v": -104}]},
      "mark": {"type": "line", "color": "#ff0000", "strokeWidth": 2, "clip": false},
      "encoding": {
        "x": {"field": "f", "type": "quantitative", "scale": {"domain": [0, 8000], "nice": false, "zero": false}, "axis": null},
        "y": {"field": "v", "type": "quantitative", "scale": {"domain": [-90, 1], "nice": false, "zero": false}, "axis": null},
        "order": {"field": "i", "type": "quantitative"}
      }
    },
    {
      "data": {"values": [{"x1": 5611, "x2": 7623, "y1": -3.7, "y2": -14.7}]},
      "mark": {"type": "rect", "fill": "#ffd9ff", "fillOpacity": 0.8, "stroke": "#ff0000", "strokeWidth": 2, "cornerRadius": 13, "clip": false},
      "encoding": {
        "x": {"field": "x1", "type": "quantitative", "scale": {"domain": [0, 8000], "nice": false, "zero": false}, "axis": null},
        "x2": {"field": "x2"},
        "y": {"field": "y1", "type": "quantitative", "scale": {"domain": [-90, 1], "nice": false, "zero": false}, "axis": null},
        "y2": {"field": "y2"}
      }
    },
    {
      "data": {"values": [{"f": 4986, "top": -15.2, "bottom": -15.2}, {"f": 5619, "top": -10.3, "bottom": -13.3}]},
      "mark": {"type": "area", "color": "#ffe1ff", "opacity": 1, "clip": false},
      "encoding": {
        "x": {"field": "f", "type": "quantitative", "scale": {"domain": [0, 8000], "nice": false, "zero": false}, "axis": null},
        "y": {"field": "top", "type": "quantitative", "scale": {"domain": [-90, 1], "nice": false, "zero": false}, "axis": null},
        "y2": {"field": "bottom"}
      }
    },
    {
      "data": {"values": [{"i": 0, "f": 5611, "v": -10.3}, {"i": 1, "f": 4986, "v": -15.2}, {"i": 2, "f": 5611, "v": -13.3}]},
      "mark": {"type": "line", "color": "#ff0000", "strokeWidth": 2, "clip": false, "strokeJoin": "miter"},
      "encoding": {
        "x": {"field": "f", "type": "quantitative", "scale": {"domain": [0, 8000], "nice": false, "zero": false}, "axis": null},
        "y": {"field": "v", "type": "quantitative", "scale": {"domain": [-90, 1], "nice": false, "zero": false}, "axis": null},
        "order": {"field": "i", "type": "quantitative"}
      }
    },
    {
      "data": {"values": [{"f": 6615, "v": -8.8, "label": ["Pulse compression", "entails wider bandwidth"]}]},
      "mark": {"type": "text", "font": "DejaVu Sans", "fontSize": 28, "color": "#000000", "align": "center", "baseline": "alphabetic", "lineHeight": 40, "clip": false},
      "encoding": {
        "x": {"field": "f", "type": "quantitative", "scale": {"domain": [0, 8000], "nice": false, "zero": false}, "axis": null},
        "y": {"field": "v", "type": "quantitative", "scale": {"domain": [-90, 1], "nice": false, "zero": false}, "axis": null},
        "text": {"field": "label"}
      }
    }
  ]
}
